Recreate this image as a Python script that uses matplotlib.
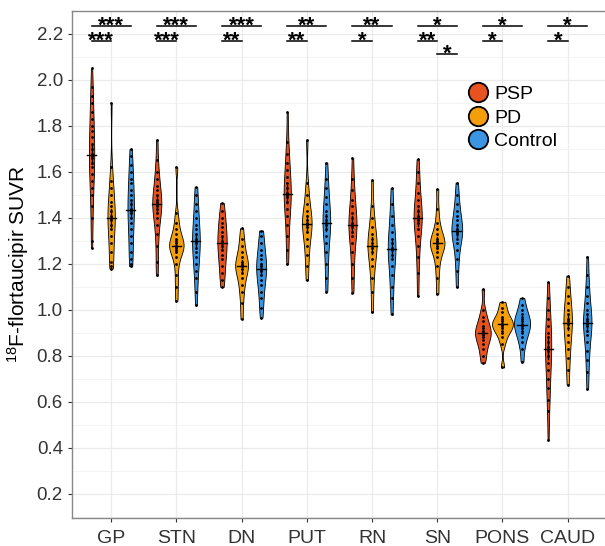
import numpy as np
import matplotlib
matplotlib.use("Agg")
import matplotlib.pyplot as plt
from matplotlib.lines import Line2D

plt.rcParams['font.family'] = ['Liberation Sans', 'DejaVu Sans']
plt.rcParams['mathtext.fontset'] = 'custom'
plt.rcParams['mathtext.rm'] = 'Liberation Sans'
plt.rcParams['mathtext.default'] = 'regular'

#regions and groups
regions = ["GP", "STN", "DN", "PUT", "RN", "SN", "PONS", "CAUD"]
groups = ["PSP", "PD", "Control"]
colors = {"PSP": "#E8521E", "PD": "#F59E0C", "Control": "#3B95E0"}

#SUVR values, one list per region
psp = {
    "GP":   [1.27, 1.30, 1.40, 1.45, 1.50, 1.53, 1.56, 1.59, 1.62, 1.64, 1.66, 1.67, 1.68, 1.70, 1.72, 1.75, 1.78, 1.80, 1.83, 1.86, 1.90, 1.93, 1.97, 2.05],
    "STN":  [1.15, 1.21, 1.28, 1.33, 1.37, 1.40, 1.42, 1.44, 1.45, 1.46, 1.47, 1.48, 1.50, 1.52, 1.54, 1.57, 1.60, 1.65, 1.74],
    "DN":   [1.10, 1.13, 1.16, 1.19, 1.22, 1.24, 1.26, 1.28, 1.29, 1.30, 1.32, 1.34, 1.36, 1.38, 1.40, 1.43, 1.465],
    "PUT":  [1.20, 1.26, 1.32, 1.37, 1.41, 1.44, 1.47, 1.49, 1.50, 1.51, 1.53, 1.55, 1.58, 1.61, 1.64, 1.68, 1.73, 1.86],
    "RN":   [1.075, 1.14, 1.20, 1.25, 1.29, 1.32, 1.34, 1.36, 1.37, 1.38, 1.40, 1.42, 1.45, 1.48, 1.52, 1.57, 1.66],
    "SN":   [1.06, 1.16, 1.23, 1.28, 1.32, 1.35, 1.38, 1.39, 1.40, 1.41, 1.43, 1.45, 1.48, 1.51, 1.55, 1.60, 1.655],
    "PONS": [0.77, 0.80, 0.83, 0.85, 0.87, 0.88, 0.89, 0.90, 0.91, 0.92, 0.93, 0.95, 0.97, 1.00, 1.09],
    "CAUD": [0.435, 0.56, 0.61, 0.66, 0.70, 0.74, 0.77, 0.80, 0.82, 0.84, 0.86, 0.88, 0.90, 0.93, 0.96, 1.00, 1.05, 1.12],
}
pd_ = {
    "GP":   [1.18, 1.19, 1.21, 1.25, 1.29, 1.32, 1.35, 1.37, 1.39, 1.40, 1.41, 1.43, 1.45, 1.47, 1.50, 1.53, 1.56, 1.62, 1.90],
    "STN":  [1.04, 1.10, 1.15, 1.20, 1.23, 1.25, 1.26, 1.27, 1.28, 1.28, 1.29, 1.30, 1.31, 1.33, 1.35, 1.38, 1.42, 1.62],
    "DN":   [0.96, 1.03, 1.08, 1.11, 1.14, 1.16, 1.18, 1.19, 1.19, 1.20, 1.21, 1.23, 1.25, 1.28, 1.31, 1.355],
    "PUT":  [1.13, 1.19, 1.24, 1.28, 1.31, 1.34, 1.36, 1.37, 1.38, 1.39, 1.41, 1.43, 1.46, 1.50, 1.55, 1.74],
    "RN":   [0.99, 1.08, 1.14, 1.19, 1.22, 1.25, 1.27, 1.28, 1.29, 1.31, 1.33, 1.36, 1.40, 1.45, 1.565],
    "SN":   [1.07, 1.14, 1.19, 1.23, 1.25, 1.27, 1.28, 1.29, 1.29, 1.30, 1.31, 1.33, 1.35, 1.38, 1.44, 1.526],
    "PONS": [0.75, 0.85, 0.88, 0.90, 0.91, 0.92, 0.93, 0.94, 0.94, 0.95, 0.96, 0.97, 0.99, 1.01, 1.035],
    "CAUD": [0.675, 0.74, 0.79, 0.83, 0.86, 0.89, 0.92, 0.94, 0.95, 0.96, 0.98, 1.00, 1.03, 1.06, 1.10, 1.148],
}
control = {
    "GP":   [1.19, 1.20, 1.22, 1.25, 1.29, 1.32, 1.35, 1.38, 1.40, 1.42, 1.43, 1.44, 1.46, 1.48, 1.50, 1.52, 1.55, 1.57, 1.60, 1.63, 1.67, 1.70],
    "STN":  [1.02, 1.08, 1.14, 1.17, 1.20, 1.23, 1.25, 1.27, 1.29, 1.30, 1.31, 1.33, 1.35, 1.37, 1.40, 1.43, 1.46, 1.50, 1.535],
    "DN":   [0.965, 1.01, 1.05, 1.08, 1.11, 1.13, 1.15, 1.17, 1.18, 1.19, 1.20, 1.22, 1.24, 1.26, 1.29, 1.32, 1.345],
    "PUT":  [1.08, 1.14, 1.20, 1.25, 1.29, 1.32, 1.35, 1.37, 1.38, 1.39, 1.41, 1.43, 1.46, 1.49, 1.53, 1.57, 1.64],
    "RN":   [0.98, 1.05, 1.10, 1.15, 1.19, 1.22, 1.24, 1.26, 1.27, 1.29, 1.31, 1.34, 1.37, 1.41, 1.46, 1.53],
    "SN":   [1.10, 1.17, 1.22, 1.26, 1.29, 1.31, 1.33, 1.34, 1.345, 1.35, 1.37, 1.39, 1.41, 1.43, 1.46, 1.50, 1.553],
    "PONS": [0.775, 0.83, 0.86, 0.88, 0.90, 0.91, 0.92, 0.93, 0.94, 0.95, 0.96, 0.97, 0.98, 1.00, 1.02, 1.052],
    "CAUD": [0.657, 0.73, 0.78, 0.82, 0.86, 0.89, 0.91, 0.93, 0.94, 0.95, 0.96, 0.98, 1.00, 1.03, 1.06, 1.10, 1.15, 1.232],
}
data = {"PSP": psp, "PD": pd_, "Control": control}

#significance: (region, group a, group b, bar height, label)
sig_bars = [
    ("GP", "PSP", "Control", 2.235, "***"), ("GP", "PSP", "PD", 2.171, "***"),
    ("STN", "PSP", "Control", 2.235, "***"), ("STN", "PSP", "PD", 2.171, "***"),
    ("DN", "PSP", "Control", 2.235, "***"), ("DN", "PSP", "PD", 2.171, "**"),
    ("PUT", "PSP", "Control", 2.235, "**"), ("PUT", "PSP", "PD", 2.171, "**"),
    ("RN", "PSP", "Control", 2.235, "**"), ("RN", "PSP", "PD", 2.171, "*"),
    ("SN", "PSP", "Control", 2.235, "*"), ("SN", "PSP", "PD", 2.171, "**"),
    ("SN", "PD", "Control", 2.113, "*"),
    ("PONS", "PSP", "Control", 2.235, "*"), ("PONS", "PSP", "PD", 2.171, "*"),
    ("CAUD", "PSP", "Control", 2.235, "*"), ("CAUD", "PSP", "PD", 2.171, "*"),
]


def kde(vals, grid):
    vals = np.asarray(vals)
    n = len(vals)
    sd = vals.std(ddof=1)
    iqr = np.subtract(*np.percentile(vals, [75, 25]))
    bw = 0.9 * min(sd, iqr / 1.34) * n ** -0.2
    z = (grid[:, None] - vals[None, :]) / bw
    return np.exp(-0.5 * z ** 2).sum(axis=1) / (n * bw * np.sqrt(2 * np.pi))


fig = plt.figure(figsize=(6.05, 5.46), dpi=100)
ax = fig.add_axes([0.119, 0.0513, 0.884, 0.9286])

offsets = {"PSP": -0.3, "PD": 0.0, "Control": 0.3}
half_w = 0.16

#densities first so all violins share one area scale
dens = {}
for g in groups:
    for r in regions:
        v = data[g][r]
        grid = np.linspace(min(v), max(v), 200)
        dens[(g, r)] = (grid, kde(v, grid))
dmax = max(d.max() for _, d in dens.values())

for i, r in enumerate(regions):
    for g in groups:
        x0 = i + 1 + offsets[g]
        grid, d = dens[(g, r)]
        w = d / dmax * half_w
        ax.fill_betweenx(grid, x0 - w, x0 + w, facecolor=colors[g],
                         edgecolor="black", linewidth=0.6, zorder=3)
        v = np.array(data[g][r])
        ax.scatter(np.full(len(v), x0), v, s=4, color="black", zorder=4, linewidths=0)
        med = np.median(v)
        se = v.std(ddof=1) / np.sqrt(len(v))
        ax.plot([x0 - 0.07, x0 + 0.07], [med, med], color="black", lw=1, zorder=5)
        ax.plot([x0, x0], [med - se, med + se], color="black", lw=1, zorder=5)

for r, a, b, yb, lab in sig_bars:
    i = regions.index(r) + 1
    xa, xb = i + offsets[a], i + offsets[b]
    ax.plot([xa, xb], [yb, yb], color="black", lw=1.1, zorder=5)
    ax.text((xa + xb) / 2, yb - 0.026, lab, ha="center", va="baseline",
            fontsize=16, fontweight="bold", color="black", zorder=5)

ax.set_xlim(0.4, 8.6)
ax.set_ylim(0.095, 2.30)
ax.set_xticks(range(1, len(regions) + 1))
ax.set_xticklabels(regions)
ax.set_yticks(np.arange(0.2, 2.21, 0.2))
ax.set_yticks(np.arange(0.1, 2.31, 0.2), minor=True)
ax.set_yticklabels([f"{t:.1f}" for t in np.arange(0.2, 2.21, 0.2)])
ax.tick_params(axis="y", labelsize=13.5, colors="#333333", length=3, width=0.8)
ax.tick_params(axis="x", labelsize=14, colors="#333333", length=3, width=0.8, pad=6)
ax.tick_params(axis="y", which="minor", length=0)
ax.grid(True, which="major", color="#EBEBEB", lw=0.9, zorder=0)
ax.grid(True, which="minor", axis="y", color="#F2F2F2", lw=0.6, zorder=0)
ax.set_axisbelow(True)
for s in ax.spines.values():
    s.set_color("#888888")
    s.set_linewidth(1)

ax.set_ylabel(r"$^{18}$F-flortaucipir SUVR", fontsize=15, color="black", labelpad=4)

handles = [Line2D([], [], marker="o", ls="", markersize=14, markerfacecolor=colors[g],
                  markeredgecolor="black", markeredgewidth=1.3) for g in groups]
ax.legend(handles, groups, loc="upper left", bbox_to_anchor=(0.738, 0.853),
          frameon=False, fontsize=14, handletextpad=0.2, labelspacing=0.3,
          borderaxespad=0, borderpad=0, handlelength=1.2)

fig.savefig("out.png", dpi=100)
